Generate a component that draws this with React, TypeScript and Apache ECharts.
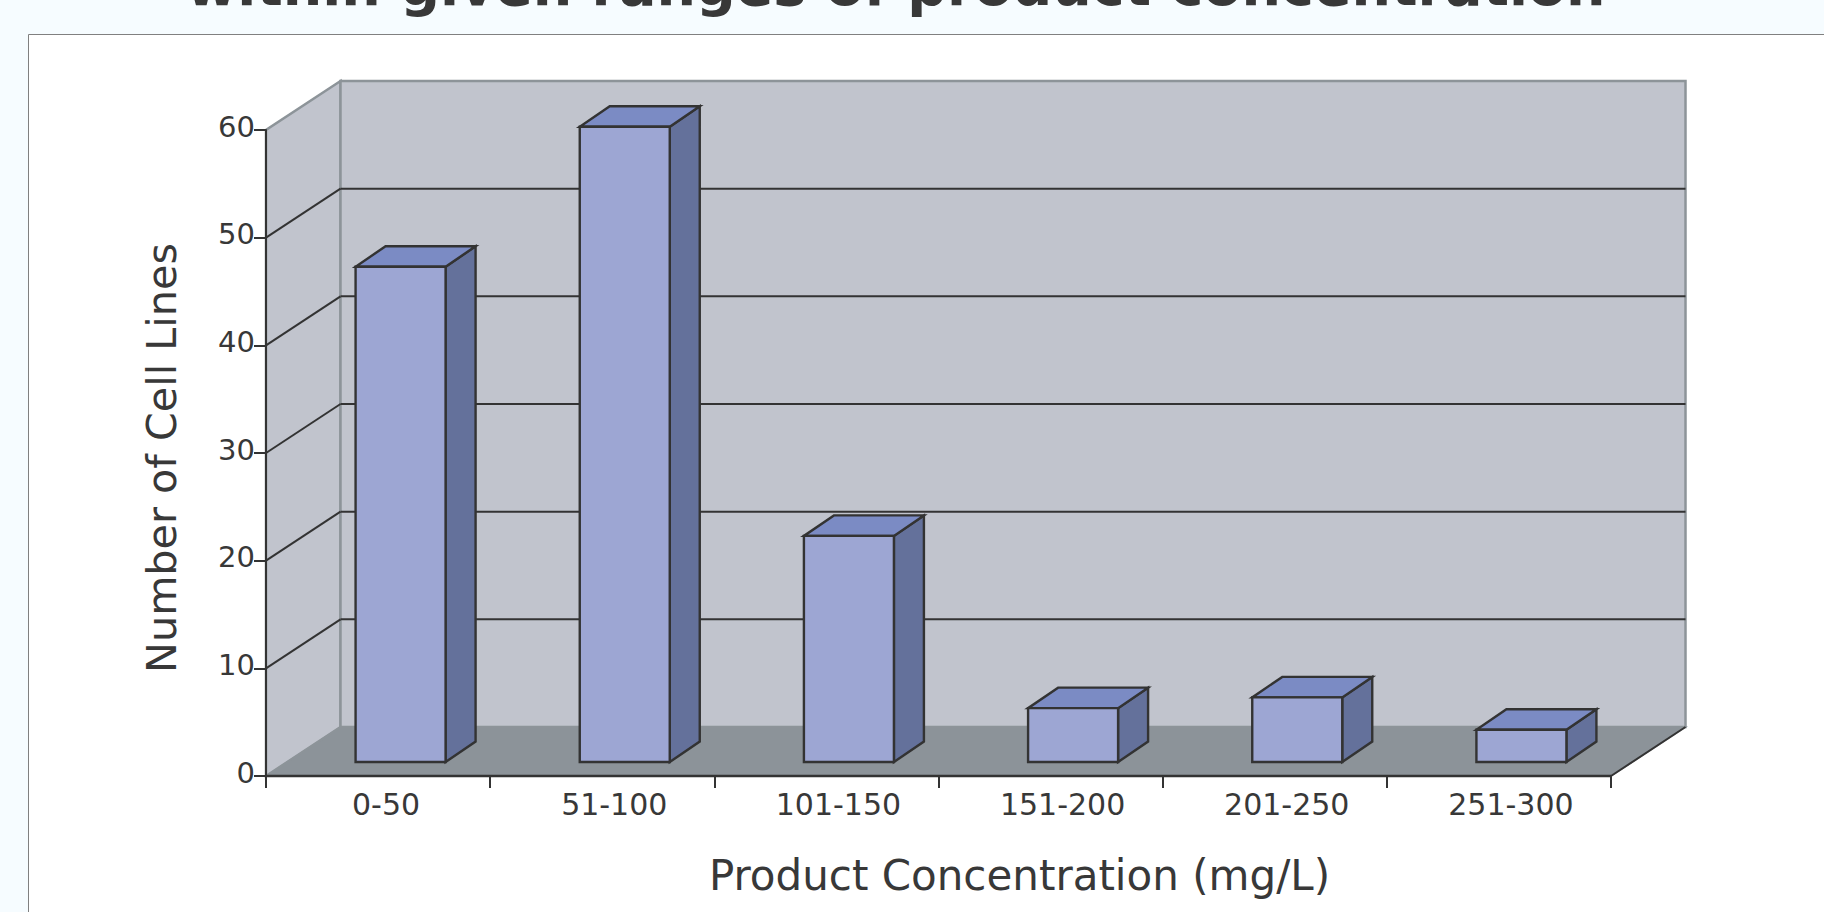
import React, { useEffect, useRef } from "react";
import * as echarts from "echarts";

// Cell line counts per product concentration range
const categories = ["0-50", "51-100", "101-150", "151-200", "201-250", "251-300"];
const cellLineCounts = [46, 59, 21, 5, 6, 3];
const yTicks = [0, 10, 20, 30, 40, 50, 60];

const titleText = "within given ranges of product concentration";
const xAxisName = "Product Concentration (mg/L)";
const yAxisName = "Number of Cell Lines";

const FONT = "'DejaVu Sans', sans-serif";
const INK = "#333333";
const TEXT = "#383838";
const EDGE = "#8d9499";
const WALL = "#c1c4cd";
const FLOOR = "#8c9399";
const BAR_FRONT = "#9da6d3";
const BAR_SIDE = "#64719b";
const BAR_TOP = "#7b8bc4";

// Pseudo-3D projection: how far the back wall sits from the axis plane, in pixels
const DEPTH_X = 74.5;
const DEPTH_Y = -49;
// Bars stand part way into the floor and have their own shallow depth
const BAR_SHIFT_X = 22.5;
const BAR_SHIFT_Y = -14;
const BAR_DEPTH_X = 30;
const BAR_DEPTH_Y = -20.5;
const BAR_WIDTH = 90;

const poly = (points: number[][], fill: string, stroke: string, lineWidth = 2) => ({
  type: "polygon",
  shape: { points },
  style: { fill, stroke, lineWidth, lineJoin: "miter" },
});

const seg = (a: number[], b: number[], stroke: string, lineWidth = 2) => ({
  type: "line",
  shape: { x1: a[0], y1: a[1], x2: b[0], y2: b[1] },
  style: { stroke, lineWidth },
});

// Side wall, back wall and floor of the chart box, with the two front edges on top
const renderWalls = (params: any, api: any) => {
  const { x, y, width, height } = params.coordSys;
  const bottom = y + height;
  const right = x + width;
  return {
    type: "group",
    children: [
      poly(
        [
          [x, bottom],
          [x, y],
          [x + DEPTH_X, y + DEPTH_Y],
          [x + DEPTH_X, bottom + DEPTH_Y],
        ],
        WALL,
        EDGE,
        2.5
      ),
      poly(
        [
          [x + DEPTH_X, y + DEPTH_Y],
          [right + DEPTH_X, y + DEPTH_Y],
          [right + DEPTH_X, bottom + DEPTH_Y],
          [x + DEPTH_X, bottom + DEPTH_Y],
        ],
        WALL,
        EDGE,
        2.5
      ),
      poly(
        [
          [x, bottom],
          [right, bottom],
          [right + DEPTH_X, bottom + DEPTH_Y],
          [x + DEPTH_X, bottom + DEPTH_Y],
        ],
        FLOOR,
        EDGE,
        1.5
      ),
      seg([right, bottom], [right + DEPTH_X, bottom + DEPTH_Y], INK),
      seg([x, y], [x, bottom], INK),
      seg([x, bottom], [right, bottom], INK, 2.5),
    ],
  };
};

// One gridline per tick, folded across the side wall and the back wall
const renderGridline = (params: any, api: any) => {
  const value = api.value(1);
  if (value === 0 || value === 60) return { type: "group", children: [] };
  const { x, width } = params.coordSys;
  const yPos = api.coord([0, value])[1];
  const back = [x + DEPTH_X, yPos + DEPTH_Y];
  return {
    type: "group",
    children: [
      seg([x, yPos], back, INK),
      seg(back, [x + width + DEPTH_X, yPos + DEPTH_Y], INK),
    ],
  };
};

const renderBar = (params: any, api: any) => {
  const center = api.coord([api.value(0), 0])[0] + BAR_SHIFT_X;
  const base = api.coord([api.value(0), 0])[1] + BAR_SHIFT_Y;
  const top = api.coord([api.value(0), api.value(1)])[1] + BAR_SHIFT_Y;
  const l = center - BAR_WIDTH / 2;
  const r = center + BAR_WIDTH / 2;
  const dx = BAR_DEPTH_X;
  const dy = BAR_DEPTH_Y;
  return {
    type: "group",
    children: [
      poly([[r, base], [r + dx, base + dy], [r + dx, top + dy], [r, top]], BAR_SIDE, INK, 2.4),
      poly([[l, top], [r, top], [r + dx, top + dy], [l + dx, top + dy]], BAR_TOP, INK, 2.4),
      poly([[l, top], [r, top], [r, base], [l, base]], BAR_FRONT, INK, 2.4),
    ],
  };
};

export default function App() {
  const ref = useRef<HTMLDivElement>(null);

  useEffect(() => {
    const chart = echarts.init(ref.current!, undefined, { renderer: "svg" });
    chart.setOption({
      animation: false,
      backgroundColor: "#f6fcff",
      title: {
        text: titleText,
        left: 186,
        top: -43,
        padding: 0,
        textStyle: { fontFamily: FONT, fontSize: 55.5, fontWeight: "bold", color: TEXT },
      },
      graphic: [
        {
          type: "rect",
          z: -1,
          silent: true,
          shape: { x: 28.5, y: 34.5, width: 1900, height: 1000 },
          style: { fill: "#ffffff", stroke: "#808080", lineWidth: 1 },
        },
      ],
      grid: { left: 266, top: 130, width: 1345, height: 646 },
      xAxis: {
        type: "category",
        data: categories.map((c, i) =>
          i === 0 ? { value: c, textStyle: { padding: [0, 0, 0, 16] } } : c
        ),
        z: 5,
        name: xAxisName,
        nameLocation: "middle",
        nameGap: 78,
        nameTextStyle: {
          fontFamily: FONT,
          fontSize: 42,
          color: TEXT,
          padding: [0, 0, 0, 162],
        },
        axisLine: { show: true, lineStyle: { color: INK, width: 2 } },
        axisTick: { show: true, length: 12, lineStyle: { color: INK, width: 2 } },
        axisLabel: {
          fontFamily: FONT,
          fontSize: 30,
          color: TEXT,
          margin: 13,
          padding: [0, 0, 0, 24],
        },
      },
      yAxis: {
        type: "value",
        min: 0,
        max: 60,
        interval: 10,
        z: 5,
        name: yAxisName,
        nameLocation: "middle",
        nameGap: 84,
        nameTextStyle: {
          fontFamily: FONT,
          fontSize: 41.3,
          color: TEXT,
          padding: [0, 10, 0, 0],
        },
        splitLine: { show: false },
        axisLine: { show: true, lineStyle: { color: INK, width: 2 } },
        axisTick: { show: true, length: 12, lineStyle: { color: INK, width: 2 } },
        axisLabel: {
          fontFamily: FONT,
          fontSize: 29,
          color: TEXT,
          margin: 11,
          verticalAlign: "bottom",
          lineHeight: 7,
        },
      },
      series: [
        {
          type: "custom",
          z: 1,
          silent: true,
          clip: false,
          data: [[0, 0]],
          renderItem: renderWalls,
        },
        {
          type: "custom",
          z: 2,
          silent: true,
          clip: false,
          data: yTicks.map((v) => [0, v]),
          renderItem: renderGridline,
        },
        {
          type: "custom",
          z: 3,
          silent: true,
          clip: false,
          data: cellLineCounts.map((v, i) => [i, v]),
          renderItem: renderBar,
        },
      ],
    });
    return () => chart.dispose();
  }, []);

  return (
    <div
      ref={ref}
      style={{ position: "fixed", left: 0, top: 0, width: 1824, height: 912 }}
    />
  );
}
